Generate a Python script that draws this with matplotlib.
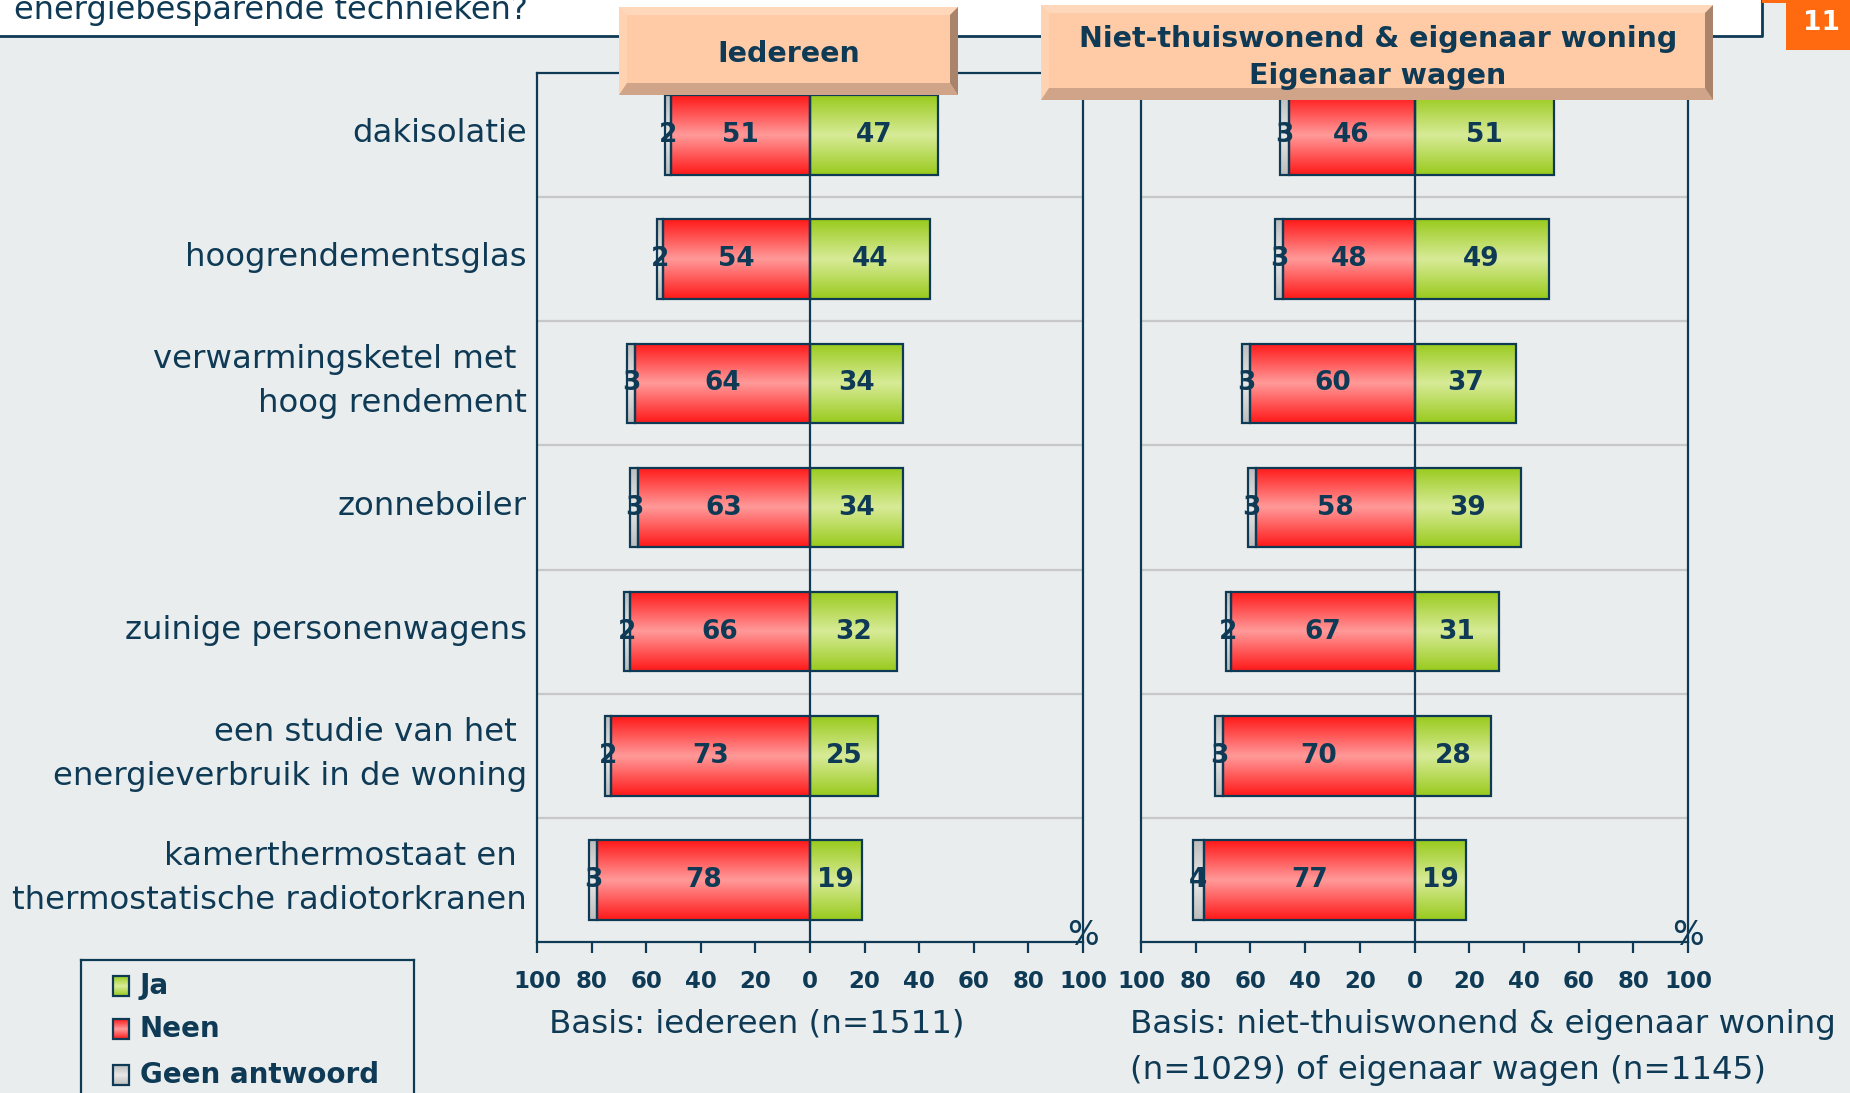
import numpy as np
import matplotlib
matplotlib.use("Agg")
import matplotlib.pyplot as plt
from matplotlib.colors import LinearSegmentedColormap
from matplotlib.patches import Rectangle, Polygon
from matplotlib.transforms import blended_transform_factory, ScaledTranslation

# data
categories = ["dakisolatie", "hoogrendementsglas", "verwarmingsketel met \nhoog rendement",
              "zonneboiler", "zuinige personenwagens", "een studie van het \nenergieverbruik in de woning",
              "kamerthermostaat en \nthermostatische radiotorkranen"]
ja_all = [47, 44, 34, 34, 32, 25, 19]
neen_all = [51, 54, 64, 63, 66, 73, 78]
geen_all = [2, 2, 3, 3, 2, 2, 3]
ja_sub = [51, 49, 37, 39, 31, 28, 19]
neen_sub = [46, 48, 60, 58, 67, 70, 77]
geen_sub = [3, 3, 3, 3, 2, 3, 4]
ticks = [-100, -80, -60, -40, -20, 0, 20, 40, 60, 80, 100]
tick_labels = [str(abs(t)) for t in ticks]
legend_labels = ["Ja", "Neen", "Geen antwoord"]

W, H = 1850, 1093
BG = "#E9EDEE"
NAVY = "#0F3A55"

cm_red = LinearSegmentedColormap.from_list("r", ["#FF1A1A", "#FF9A9A", "#FF1A1A"])
cm_green = LinearSegmentedColormap.from_list("g", ["#9ACB1E", "#D8EB98", "#9ACB1E"])
cm_grey = LinearSegmentedColormap.from_list("k", ["#BDBDBD", "#E8E8E8", "#BDBDBD"])
grad = np.linspace(0, 1, 60)[:, None]

fig = plt.figure(figsize=(W / 100, H / 100), dpi=100, facecolor=BG)


def fbox(x0, y0, x1, y1):
    # pixel box (top-left origin) -> figure fraction rect
    return [x0 / W, 1 - y1 / H, (x1 - x0) / W, (y1 - y0) / H]


def gbar(ax, left, right, y, h, cmap):
    ax.imshow(grad, cmap=cmap, extent=[left, right, y + h / 2, y - h / 2],
              aspect="auto", zorder=2, interpolation="bilinear")
    ax.add_patch(Rectangle((left, y - h / 2), right - left, h, fill=False,
                           edgecolor=NAVY, lw=1.6, zorder=3))


def panel(rect, ja, neen, geen, labels):
    ax = fig.add_axes(rect)
    ax.set_facecolor(BG)
    h = 0.64
    for i in range(len(ja)):
        gbar(ax, -(neen[i] + geen[i]), -neen[i], i, h, cm_grey)
        gbar(ax, -neen[i], 0, i, h, cm_red)
        gbar(ax, 0, ja[i], i, h, cm_green)
        kw = dict(ha="center", va="center", fontsize=19, fontweight="bold", color=NAVY, zorder=5)
        ax.text(-(neen[i] + geen[i] / 2), i, str(geen[i]), **kw)
        ax.text(-neen[i] / 2, i, str(neen[i]), **kw)
        ax.text(ja[i] / 2, i, str(ja[i]), **kw)
    for k in range(len(ja) - 1):
        ax.axhline(k + 0.5, color="#C8C8C8", lw=1.6, zorder=1)
    ax.axvline(0, color=NAVY, lw=1.6, zorder=4)
    ax.set_xlim(-100, 100)
    ax.set_ylim(len(ja) - 0.5, -0.5)
    ax.set_xticks(ticks)
    ax.set_xticklabels(tick_labels, fontsize=16.5, fontweight="bold", color=NAVY)
    ax.tick_params(axis="x", length=8, width=1.6, color=NAVY, pad=12)
    ax.set_yticks([])
    if labels:
        tr = blended_transform_factory(ax.transAxes, ax.transData) + \
            ScaledTranslation(-10 / 100, 1.5 / 100, fig.dpi_scale_trans)
        for i, c in enumerate(categories):
            ax.text(0, i, c, transform=tr, ha="right", va="center", ma="right",
                    fontsize=23.3, color=NAVY, linespacing=1.55)
    for s in ax.spines.values():
        s.set_color(NAVY)
        s.set_linewidth(1.6)
    ax.text(1.0, -0.012, "%", transform=ax.transAxes, ha="center", va="bottom",
            fontsize=24, color=NAVY)
    return ax


ax1 = panel(fbox(537, 73, 1083, 942), ja_all, neen_all, geen_all, True)
ax2 = panel(fbox(1141, 73, 1688, 942), ja_sub, neen_sub, geen_sub, False)

# top white strip with title
fig.add_artist(Rectangle((0, 1 - 36 / H), 1762 / W, 36 / H, transform=fig.transFigure,
                         facecolor="white", edgecolor="none", zorder=1))
fig.add_artist(plt.Line2D([0, 1762 / W, 1762 / W], [1 - 36 / H, 1 - 36 / H, 1],
                          transform=fig.transFigure, color=NAVY, lw=2, zorder=2))
fig.text(14 / W, 1 - 19 / H, "energiebesparende technieken?", fontsize=23, color=NAVY,
         ha="left", va="baseline", zorder=3)
fig.add_artist(Rectangle((1762 / W, 1 - 3 / H), 24 / W, 3 / H, transform=fig.transFigure,
                         facecolor="#FF6A10", edgecolor="none", zorder=2))
fig.add_artist(Rectangle((1786 / W, 1 - 50 / H), 64 / W, 50 / H, transform=fig.transFigure,
                         facecolor="#FF6A10", edgecolor="none", zorder=2))
fig.text(1822 / W, 1 - 23 / H, "11", fontsize=19, fontweight="bold", color="white",
         ha="center", va="center", zorder=3)


def header(x0, y0, x1, y1):
    b, bb = 8, 12
    T = lambda pts: [(x / W, 1 - y / H) for x, y in pts]
    parts = [
        ([(x0, y0), (x1, y0), (x1, y1), (x0, y1)], "#FFCBA6"),
        ([(x0, y0), (x1, y0), (x1 - b, y0 + b), (x0 + b, y0 + b)], "#FFD8BC"),
        ([(x0, y0), (x0, y1), (x0 + b, y1 - bb), (x0 + b, y0 + b)], "#FFD3B2"),
        ([(x0, y1), (x1, y1), (x1 - b, y1 - bb), (x0 + b, y1 - bb)], "#CFA488"),
        ([(x1, y0), (x1, y1), (x1 - b, y1 - bb), (x1 - b, y0 + b)], "#A9836A"),
    ]
    for pts, c in parts:
        fig.add_artist(Polygon(T(pts), closed=True, transform=fig.transFigure,
                               facecolor=c, edgecolor="none", zorder=4))


header(619, 7, 958, 95)
header(1041, 5, 1713, 100)
fig.text(789 / W, 1 - 54 / H, "Iedereen", fontsize=20.5, fontweight="bold", color=NAVY,
         ha="center", va="center", zorder=5)
fig.text(1378 / W, 1 - 39 / H, "Niet-thuiswonend & eigenaar woning", fontsize=20.5,
         fontweight="bold", color=NAVY, ha="center", va="center", zorder=5)
fig.text(1378 / W, 1 - 76 / H, "Eigenaar wagen", fontsize=20.5,
         fontweight="bold", color=NAVY, ha="center", va="center", zorder=5)

# basis notes
fig.text(549 / W, 1 - 1024 / H, "Basis: iedereen (n=1511)", fontsize=23.4, color=NAVY,
         ha="left", va="center")
fig.text(1130 / W, 1 - 1025 / H, "Basis: niet-thuiswonend & eigenaar woning", fontsize=23.4,
         color=NAVY, ha="left", va="center")
fig.text(1130 / W, 1 - 1070 / H, "(n=1029) of eigenaar wagen (n=1145)", fontsize=23.4,
         color=NAVY, ha="left", va="center")

# legend
lax = fig.add_axes(fbox(81, 960, 414, 1093))
lax.set_xlim(81, 414)
lax.set_ylim(1093, 960)
lax.set_facecolor(BG)
lax.set_xticks([])
lax.set_yticks([])
for name, s in lax.spines.items():
    s.set_color(NAVY)
    s.set_linewidth(1.6)
lax.spines["bottom"].set_visible(False)
for lab, cmap, yc in zip(legend_labels, [cm_green, cm_red, cm_grey], [986, 1029, 1075]):
    gbar(lax, 113, 129, yc, 20, cmap)
    lax.text(140, yc, lab, fontsize=20, fontweight="bold", color=NAVY, ha="left", va="center")

fig.savefig("out.png", dpi=100, facecolor=BG)
